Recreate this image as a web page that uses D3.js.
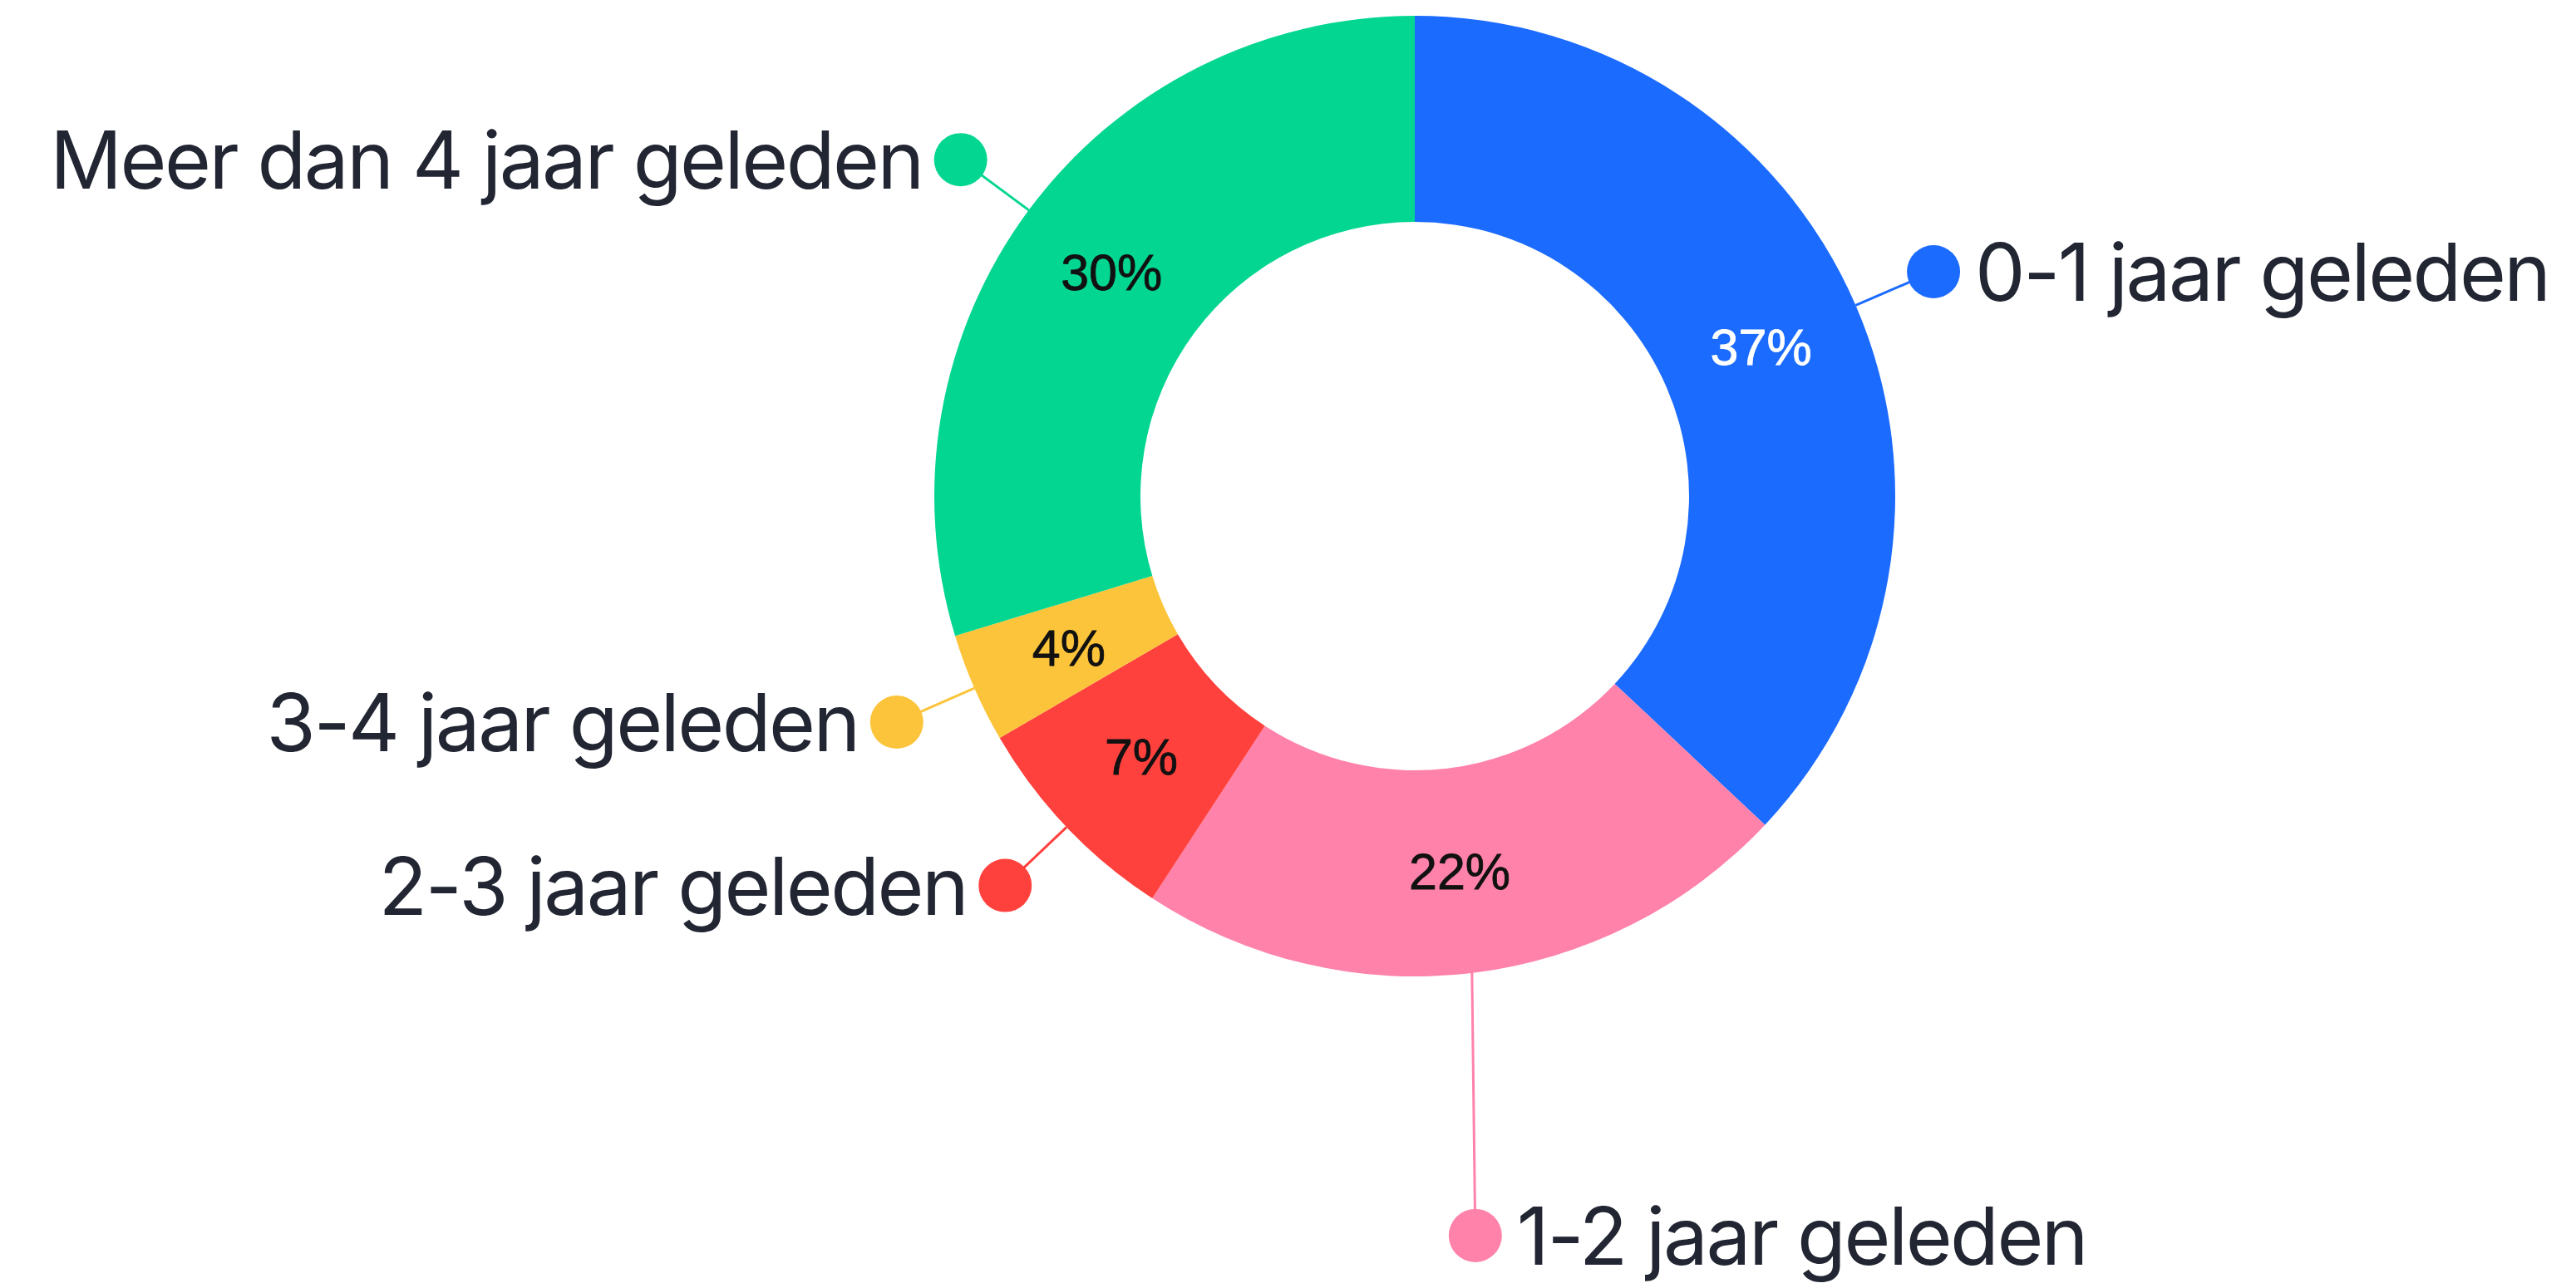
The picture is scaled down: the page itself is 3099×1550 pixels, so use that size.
<!DOCTYPE html>
<html>

<head>
    <meta charset="utf-8">
    <script src="https://d3js.org/d3.v7.min.js"></script>
    <style>
        body { margin: 0; background: #fff; }
    </style>
</head>

<body>
    <script>
        // chart data
        let categories = ["0-1 jaar geleden", "1-2 jaar geleden", "2-3 jaar geleden", "3-4 jaar geleden", "Meer dan 4 jaar geleden"];
        let shares = [37.0, 22.2, 7.4, 3.7, 29.7];
        let colors = ["#1c6bff", "#ff82aa", "#ff413d", "#fcc43a", "#03d690"];
        let valueColors = ["#ffffff", "#111111", "#111111", "#111111", "#111111"];

        let width = 3099,
            height = 1550;

        let cx = 1702, cy = 597;
        let outer = 578, inner = 330;

        let svg = d3.select("body").append("svg")
            .attr("width", width)
            .attr("height", height);

        let g = svg.append("g")
            .attr("transform", "translate(" + cx + "," + cy + ")");

        let data = categories.map(function (c, i) {
            return { name: c, value: shares[i], color: colors[i], text: valueColors[i] };
        });

        let pie = d3.pie()
            .sort(null)
            .value(function (d) { return d.value; });

        let arc = d3.arc()
            .innerRadius(inner)
            .outerRadius(outer);

        let arcs = pie(data);

        g.selectAll("path")
            .data(arcs)
            .join("path")
                .attr("d", arc)
                .attr("fill", function (d) { return d.data.color; });

        // percentages inside the ring
        g.selectAll("text.pct")
            .data(arcs)
            .join("text")
                .attr("class", "pct")
                .attr("transform", function (d) { return "translate(" + arc.centroid(d) + ")"; })
                .attr("text-anchor", "middle")
                .attr("dy", "0.36em")
                .attr("font-family", "'Liberation Sans', Arial, sans-serif")
                .attr("font-size", 61)
                .attr("stroke", function (d) { return d.data.text; })
                .attr("stroke-width", 0.8)
                .attr("fill", function (d) { return d.data.text; })
                .text(function (d) { return Math.round(d.data.value) + "%"; });

        // leader lines, dots and labels
        function place(d) {
            let a = (d.startAngle + d.endAngle) / 2;
            let dx = Math.sin(a), dy = -Math.cos(a);
            let p0 = [dx * outer, dy * outer];
            let p1;
            if (Math.abs(dx) < 0.25) p1 = [p0[0] + 4, p0[1] + 316];
            else p1 = [dx * 680, dy * 680];
            return { p0: p0, p1: p1, right: p1[0] > 0 };
        }

        let lab = g.selectAll("g.lab")
            .data(arcs)
            .join("g")
                .attr("class", "lab");

        lab.append("line")
            .attr("x1", function (d) { return place(d).p0[0]; })
            .attr("y1", function (d) { return place(d).p0[1]; })
            .attr("x2", function (d) { return place(d).p1[0]; })
            .attr("y2", function (d) { return place(d).p1[1]; })
            .attr("stroke", function (d) { return d.data.color; })
            .attr("stroke-width", 3);

        lab.append("circle")
            .attr("cx", function (d) { return place(d).p1[0]; })
            .attr("cy", function (d) { return place(d).p1[1]; })
            .attr("r", 32)
            .attr("fill", function (d) { return d.data.color; });

        lab.append("text")
            .attr("x", function (d) { let p = place(d); return p.right ? p.p1[0] + 50 : p.p1[0] - 46; })
            .attr("y", function (d) { return place(d).p1[1] + 35; })
            .attr("text-anchor", function (d) { return place(d).right ? "start" : "end"; })
            .attr("font-family", "Inter, 'Noto Sans', sans-serif")
            .attr("font-size", 96)
            .attr("letter-spacing", -2.5)
            .attr("fill", "#222633")
            .text(function (d) { return d.data.name; });
    </script>
</body>

</html>
